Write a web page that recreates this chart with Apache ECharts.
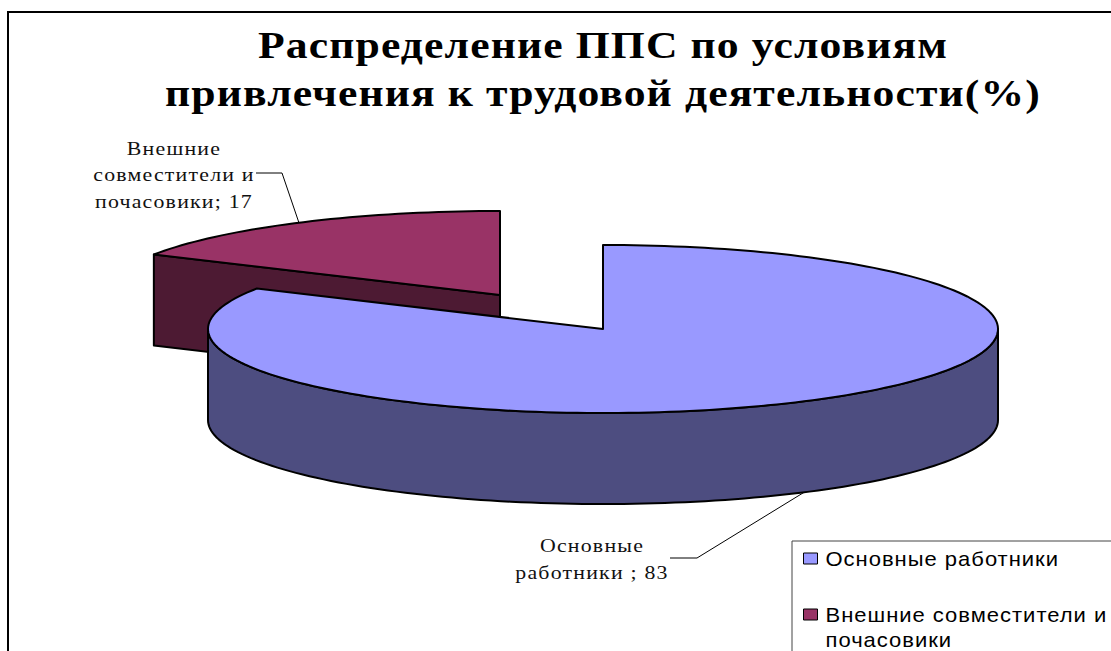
<!DOCTYPE html>
<html><head><meta charset="utf-8">
<style>html,body{margin:0;padding:0;background:#fff}#c{width:1111px;height:651px}
text[style*="39px"]{letter-spacing:1px}
text[style*="19px"]{letter-spacing:1.05px}
text[style*="20px"]{letter-spacing:.9px}
</style>
<script src="https://cdn.jsdelivr.net/npm/echarts@6/dist/echarts.min.js"></script>
</head><body><div id="c"></div>
<script>
const categories = ['Основные работники', 'Внешние совместители и почасовики'];
const values = [83, 17];
const topColors = ['#9999FF', '#993366'];
const wallColors = ['#4D4D80', '#4D1A33'];
const labelLines = [['Основные', 'работники ; 83'], ['Внешние', 'совместители и', 'почасовики; 17']];
const titleText = 'Распределение ППС по условиям\nпривлечения к трудовой деятельности(%)';

// Layout of the projected pie
const RX = 395, RY = 84, DEPTH = 91;
const centers = [[603, 329], [500, 295]];
const elbows = [[[697, 558], [670, 558]], [[282, 173], [256, 173]]];
const labelPos = [[592, 559], [174, 175]];
const stretchBySize = { '39px': 1.12, '19px': 1.15, '20px': 1.1 };
const total = values.reduce((a, b) => a + b, 0);

function rim(c, deg, dy) {
  const a = deg * Math.PI / 180;
  return [c[0] + RX * Math.sin(a), c[1] - RY * Math.cos(a) + (dy || 0)];
}
function arc(c, from, to, dy) {
  const pts = [];
  const n = Math.max(2, Math.ceil(Math.abs(to - from) / 1.5));
  for (let i = 0; i <= n; i++) pts.push(rim(c, from + (to - from) * i / n, dy));
  return pts;
}
const line = { stroke: '#000', lineWidth: 2, lineJoin: 'round' };

function renderSlice(params, api) {
  const i = params.seriesIndex;
  const c = centers[i];
  const start = values.slice(0, i).reduce((a, b) => a + b, 0) / total * 360;
  const end = start + api.value(0) / total * 360;
  const mid = (start + end) / 2;
  const children = [];
  if (i === 0) {
    // outer wall: the part of the rim facing the viewer
    const from = Math.max(start, 90), to = Math.min(end, 270);
    const pts = arc(c, from, to, 0).concat(arc(c, to, from, DEPTH));
    children.push({ type: 'polygon', shape: { points: pts }, style: Object.assign({ fill: wallColors[i] }, line) });
  } else {
    // cut face below the start radius
    const s = rim(c, start);
    const pts = [s, c, [c[0], c[1] + DEPTH], [s[0], s[1] + DEPTH]];
    children.push({ type: 'polygon', shape: { points: pts }, style: Object.assign({ fill: wallColors[i] }, line) });
  }
  const topPts = [c].concat(arc(c, start, end, 0));
  children.push({ type: 'polygon', shape: { points: topPts }, style: Object.assign({ fill: topColors[i] }, line) });

  // leader line from the rim at the slice's middle angle
  const anchor = rim(c, mid, Math.cos(mid * Math.PI / 180) < 0 ? DEPTH : 0);
  children.push({ type: 'polyline', shape: { points: [anchor].concat(elbows[i]) },
    style: { stroke: '#000', lineWidth: 1, fill: 'none' } });
  children.push({ type: 'text', x: labelPos[i][0], y: labelPos[i][1],
    style: { text: labelLines[i].join('\n'), fill: '#111', align: 'center', verticalAlign: 'middle',
      font: '19px "Liberation Serif"', lineHeight: 26.5 } });
  return { type: 'group', children };
}

const chart = echarts.init(document.getElementById('c'), null, { renderer: 'svg' });
chart.setOption({
  animation: false,
  backgroundColor: '#fff',
  graphic: [{ type: 'rect', z: -10, shape: { x: 8, y: 12, width: 1300, height: 900 },
    style: { fill: '#fff', stroke: '#000', lineWidth: 2 } }],
  title: { text: titleText, left: 598, top: 16, textAlign: 'center',
    textStyle: { fontFamily: 'Liberation Serif', fontWeight: 'bold', fontSize: 39, lineHeight: 48, color: '#000' } },
  legend: {
    orient: 'vertical', left: 792, top: 541, height: 300, selectedMode: false,
    data: categories, icon: 'rect', itemWidth: 14, itemHeight: 11, itemGap: 6,
    padding: [5, 60, 60, 11], borderColor: '#444', borderWidth: 1, backgroundColor: '#fff',
    itemStyle: { borderColor: '#000', borderWidth: 1 },
    formatter: n => n === categories[1] ? '\nВнешние совместители и\nпочасовики' : n,
    textStyle: { fontFamily: 'Liberation Sans', fontSize: 20, lineHeight: 25, color: '#000', padding: [0, 0, 0, 1] }
  },
  series: categories.map((name, i) => ({
    type: 'custom', name, coordinateSystem: 'none', z: i === 0 ? 4 : 3,
    itemStyle: { color: topColors[i] }, silent: true,
    data: [[values[i]]], renderItem: renderSlice
  }))
});

// Widen the glyphs about each text's own anchor, as in the stretched reference
function stretchTexts() {
  document.querySelectorAll('#c svg text').forEach(t => {
    if (t.dataset.sx) return;
    const st = t.getAttribute('style') || '';
    const key = Object.keys(stretchBySize).find(k => st.includes(k));
    if (!key) return;
    t.dataset.sx = '1';
    t.setAttribute('transform', (t.getAttribute('transform') || '') + ' scale(' + stretchBySize[key] + ',1)');
  });
}
stretchTexts();
chart.on('finished', stretchTexts);
</script></body></html>
